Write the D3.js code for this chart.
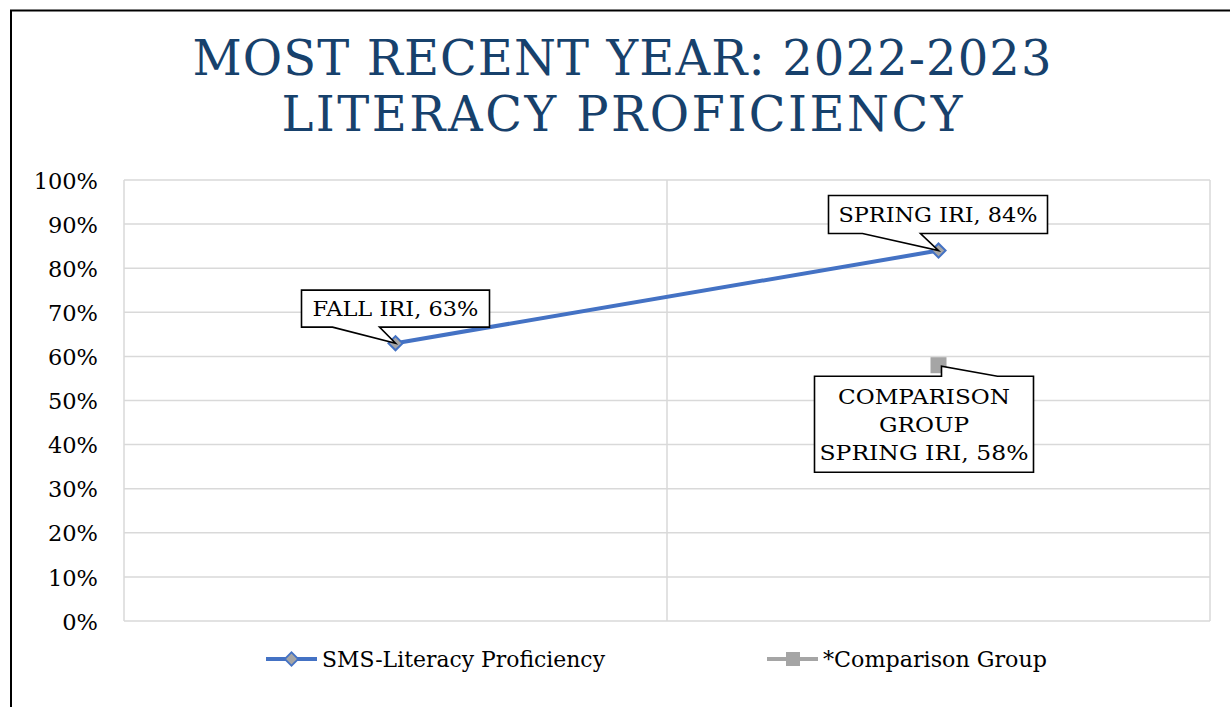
<!DOCTYPE html>
<html><head><meta charset="utf-8">
<script src="https://cdn.jsdelivr.net/npm/d3@7"></script>
<style>body{margin:0;background:#fff}svg{display:block}</style>
</head><body>
<svg id="c" width="1230" height="707"></svg>
<script>
const titleLines = ["MOST RECENT YEAR: 2022-2023", "LITERACY PROFICIENCY"];
const categories = ["Fall IRI", "Spring IRI"];
const smsValues = [0.63, 0.84];
const comparisonValues = [null, 0.58];
const seriesNames = ["SMS-Literacy Proficiency", "*Comparison Group"];
const yTicks = [0,0.1,0.2,0.3,0.4,0.5,0.6,0.7,0.8,0.9,1.0];
const smsLabels = ["FALL IRI, 63%", "SPRING IRI, 84%"];
const compLabel = ["COMPARISON", "GROUP", "SPRING IRI, 58%"];

const FONT = "'DejaVu Serif', 'Liberation Serif', serif";
const svg = d3.select("#c");
const W = 1230, H = 707;
const m = {l:124, r:20, t:180, b:86};
const x = d3.scaleBand().domain(categories).range([m.l, W - m.r]);
const y = d3.scaleLinear().domain([0,1]).range([H - m.b, m.t]);
const cx = c => x(c) + x.bandwidth()/2;

// outer border
svg.append("path").attr("d", `M11,${H} L11,10.5 L${W},10.5`).attr("fill","none").attr("stroke","#000").attr("stroke-width",2);

// title
const tw = [859, 681];
titleLines.forEach((t,i)=>{
  svg.append("text").attr("x", 622).attr("y", 75 + i*56).attr("text-anchor","middle")
    .attr("font-family", FONT).attr("font-size", 48).attr("fill","#17416c")
    .attr("textLength", tw[i]).attr("lengthAdjust","spacing").text(t);
});

// gridlines
const grid = svg.append("g");
grid.selectAll("line.h").data(yTicks).join("line")
  .attr("x1", m.l).attr("x2", W - m.r).attr("y1", d=>y(d)).attr("y2", d=>y(d))
  .attr("stroke","#d9d9d9").attr("stroke-width",1.5);
const bounds = [m.l, x(categories[1]), W - m.r];
grid.selectAll("line.v").data(bounds).join("line")
  .attr("x1", d=>d).attr("x2", d=>d).attr("y1", y(1)).attr("y2", y(0))
  .attr("stroke","#d9d9d9").attr("stroke-width",1.5);

// y axis
const yAxis = d3.axisLeft(y).tickValues(yTicks).tickFormat(d3.format(".0%")).tickSize(0).tickPadding(26);
const ga = svg.append("g").attr("transform", `translate(${m.l},0)`).call(yAxis);
ga.select(".domain").remove();
ga.selectAll("text").attr("font-family", FONT).attr("font-size", 22.5).attr("fill","#000").attr("dy","0.36em");

// SMS line
const pts = categories.map((c,i)=>({c, v: smsValues[i]}));
svg.append("path").datum(pts)
  .attr("d", d3.line().x(d=>cx(d.c)).y(d=>y(d.v)))
  .attr("fill","none").attr("stroke","#4472c4").attr("stroke-width",4);
svg.selectAll("path.dia").data(pts).join("path")
  .attr("d", d3.symbol(d3.symbolSquare, 100))
  .attr("transform", d=>`translate(${cx(d.c)},${y(d.v)}) rotate(45)`)
  .attr("fill","#a5a5a5").attr("stroke","#4472c4").attr("stroke-width",2);

// comparison marker
const cpts = categories.map((c,i)=>({c, v: comparisonValues[i]})).filter(d=>d.v!=null);
svg.selectAll("rect.cmp").data(cpts).join("rect")
  .attr("x", d=>cx(d.c)-8).attr("y", d=>y(d.v)-8).attr("width",16).attr("height",16)
  .attr("fill","#a5a5a5");

// callouts
function callout(px, py, box, wedge, lines, fs, lh, tl) {
  const g = svg.append("g");
  const [bx, by, bw, bh] = [px+box[0], py+box[1], box[2], box[3]];
  let d;
  const [e, a1, a2] = wedge;
  if (e === 'b') {
    const yy = by + bh;
    d = `M${bx},${by} H${bx+bw} V${yy} H${px+a2} L${px},${py} L${px+a1},${yy} H${bx} Z`;
  } else {
    d = `M${bx},${by} H${px+a1} L${px},${py} L${px+a2},${by} H${bx+bw} V${by+bh} H${bx} Z`;
  }
  g.append("path").attr("d", d).attr("fill","#fff").attr("stroke","#000").attr("stroke-width",1.6);
  const n = lines.length;
  lines.forEach((t,i)=>{
    const tx = g.append("text").attr("x", bx+bw/2).attr("y", by + bh/2 + (i-(n-1)/2)*lh).attr("dy","0.36em")
      .attr("text-anchor","middle").attr("font-family",FONT).attr("font-size",fs).attr("fill","#000").text(t);
    if (tl && tl[i]) tx.attr("textLength", tl[i]).attr("lengthAdjust","spacingAndGlyphs");
  });
}
callout(cx(categories[0]), y(smsValues[0]), [-94, -53, 188, 37], ['b', -63, -16], [smsLabels[0]], 21, 28, [166]);
callout(cx(categories[1]), y(smsValues[1]), [-110, -55, 219, 38], ['b', -76, -18], [smsLabels[1]], 21, 28, [199]);
callout(cx(categories[1])+3, y(comparisonValues[1])+1, [-127, 10, 219, 96], ['t', 0, 56], compLabel, 21, 28, [172, 90, 209]);

// legend
const leg = [
  {name: seriesNames[0], x: 266, color:"#4472c4", marker:"dia", w:283},
  {name: seriesNames[1], x: 767, color:"#a5a5a5", marker:"sq", w:224}
];
const ly = 659;
leg.forEach(L=>{
  const g = svg.append("g");
  g.append("line").attr("x1", L.x).attr("x2", L.x+51).attr("y1", ly).attr("y2", ly)
    .attr("stroke", L.color).attr("stroke-width",4);
  if (L.marker === "dia") {
    g.append("path").attr("d", d3.symbol(d3.symbolSquare, 90))
      .attr("transform", `translate(${L.x+25.5},${ly}) rotate(45)`)
      .attr("fill","#a5a5a5").attr("stroke","#4472c4").attr("stroke-width",1.8);
  } else {
    g.append("rect").attr("x", L.x+19).attr("y", ly-7).attr("width",14).attr("height",14).attr("fill","#a5a5a5");
  }
  g.append("text").attr("x", L.x+56).attr("y", ly).attr("dy","0.36em")
    .attr("font-family",FONT).attr("font-size",22).attr("fill","#000")
    .attr("textLength", L.w).attr("lengthAdjust","spacingAndGlyphs").text(L.name);
});
</script>
</body></html>
